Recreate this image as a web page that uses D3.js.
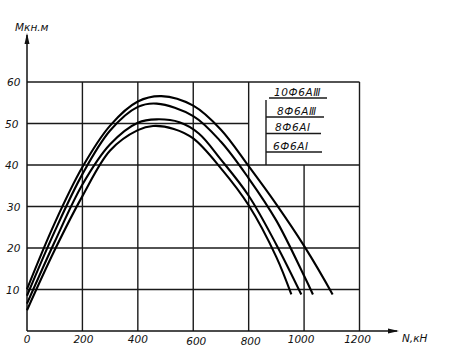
<!DOCTYPE html>
<html><head><meta charset="utf-8">
<script src="https://cdn.jsdelivr.net/npm/d3@7"></script>
<style>
html,body{margin:0;padding:0;background:#fff;}
svg{display:block;}
text{font-family:"DejaVu Sans",sans-serif;font-style:italic;fill:#111;}
</style></head>
<body>
<svg id="c" width="468" height="355"></svg>
<script>
// ---- data ----
const xTicks = [0, 200, 400, 600, 800, 1000, 1200];
const yTicks = [10, 20, 30, 40, 50, 60];
const seriesNames = ["10Ф6АⅢ", "8Ф6АⅢ", "8Ф6АⅠ", "6Ф6АⅠ"];
const n1 = [0, 100, 200, 300, 400, 485, 600, 700, 800, 900, 1000, 1103];
const m1 = [10.1, 26, 39.5, 49.5, 55.3, 56.6, 54.3, 48.5, 39.7, 30.5, 20.5, 8.8];
const n2 = [0, 100, 200, 300, 400, 468, 600, 700, 800, 900, 1000, 1032];
const m2 = [8.5, 24, 37.8, 48.3, 54.0, 54.8, 51.8, 45.6, 36.8, 26.6, 13.3, 8.8];
const n3 = [0, 100, 200, 300, 400, 468, 550, 620, 700, 800, 900, 990];
const m3 = [6.6, 21.5, 35.3, 45, 50.2, 51, 50.3, 47.6, 41.3, 32.6, 20.8, 8.8];
const n4 = [0, 100, 200, 300, 400, 455, 530, 600, 700, 800, 900, 954];
const m4 = [5, 19.5, 32.5, 43.5, 48.4, 49.4, 48.7, 46.4, 39.2, 30.3, 17.8, 8.8];
const xLabel = "N,кН";
const yLabel = "Мкн.м";

// ---- drawing ----
const svg = d3.select("#c");
const x = d3.scaleLinear().domain([0, 1200]).range([27, 359.5]);
const y = d3.scaleLinear().domain([0, 60]).range([331, 82]);

const g = svg.append("g");
const gridStroke = "#1a1a1a", gw = 1.4;

// vertical gridlines
xTicks.filter(d => d > 0).forEach(d => {
  const top = d === 1000 ? 40 : 60;
  g.append("line").attr("x1", x(d)).attr("x2", x(d)).attr("y1", y(0)).attr("y2", y(top))
    .attr("stroke", gridStroke).attr("stroke-width", gw);
});
// horizontal gridlines
yTicks.forEach(d => {
  const right = d === 50 ? 800 : 1200;
  g.append("line").attr("x1", x(0)).attr("x2", x(right)).attr("y1", y(d)).attr("y2", y(d))
    .attr("stroke", gridStroke).attr("stroke-width", gw);
});

// axes
g.append("line").attr("x1", x(0)).attr("x2", x(0)).attr("y1", y(0)).attr("y2", 35)
  .attr("stroke", "#111").attr("stroke-width", 1.5);
g.append("path").attr("d", `M${x(0)-2.5},44 L${x(0)},33 L${x(0)+2.5},44 Z`).attr("fill", "#111");
g.append("line").attr("x1", x(0)).attr("x2", 397).attr("y1", y(0)).attr("y2", y(0))
  .attr("stroke", "#111").attr("stroke-width", 1.5);
g.append("path").attr("d", `M388,${y(0)-2.5} L399,${y(0)} L388,${y(0)+2.5} Z`).attr("fill", "#111");

// tick labels
const xOff = [0, 1, 0, 3, 2, -3, -2];
const yOffX = [2, 3, 3, 1, 1, 3];
g.selectAll(".xt").data(xTicks).enter().append("text")
  .attr("x", (d, i) => x(d) + xOff[i]).attr("y", d => (d === 600 || d === 800) ? 345 : 343)
  .attr("text-anchor", "middle").attr("font-size", 10.5).text(d => d);
g.selectAll(".yt").data(yTicks).enter().append("text")
  .attr("x", (d, i) => 4 + yOffX[i]).attr("y", d => y(d) + 4)
  .attr("font-size", 10.5).text(d => d);

g.append("text").attr("x", 402).attr("y", 342).attr("font-size", 10.5).text(xLabel);
g.append("text").attr("x", 15).attr("y", 31).attr("font-size", 10.5).text(yLabel);

// curves
const line = d3.line().x(d => x(d[0])).y(d => y(d[1])).curve(d3.curveCatmullRom.alpha(0.5));
const series = [[n1, m1], [n2, m2], [n3, m3], [n4, m4]];
series.forEach(([ns, ms]) => {
  g.append("path").datum(ns.map((n, i) => [n, ms[i]])).attr("d", line)
    .attr("fill", "none").attr("stroke", "#000").attr("stroke-width", 2.1);
});

// legend
const bx = 266;
g.append("line").attr("x1", bx).attr("x2", bx).attr("y1", 100).attr("y2", y(40))
  .attr("stroke", gridStroke).attr("stroke-width", gw);
const rowY = [98, 117, 133.5, 152];
const rowX1 = [269, bx, bx, bx];
const rowX2 = [327, 324, 321, 322];
const txtX = [274, 277, 275, 273];
seriesNames.forEach((s, i) => {
  g.append("line").attr("x1", rowX1[i]).attr("x2", rowX2[i]).attr("y1", rowY[i]).attr("y2", rowY[i])
    .attr("stroke", gridStroke).attr("stroke-width", gw);
  g.append("text").attr("x", txtX[i]).attr("y", rowY[i] - 2.5).attr("font-size", 10.5)
    .attr("letter-spacing", 0.6).text(s);
});
</script>
</body></html>
